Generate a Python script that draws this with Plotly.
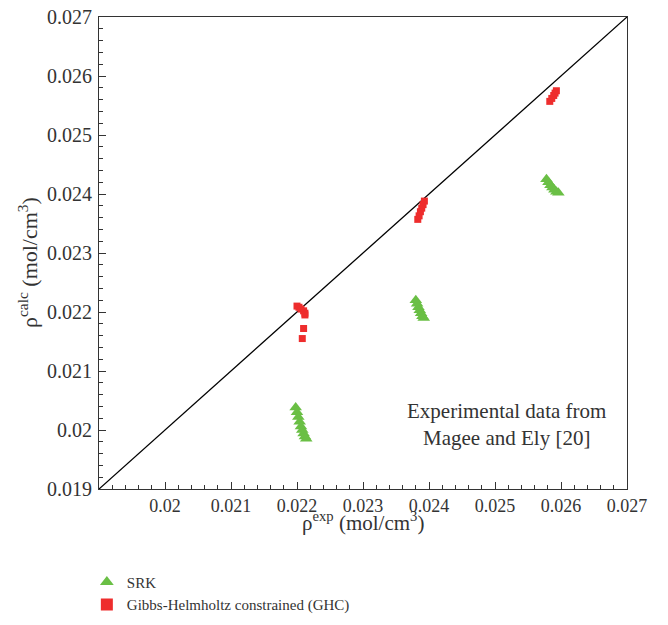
import plotly.graph_objects as go

# SRK (green triangles)
srk_x = [0.02198, 0.02200, 0.02202, 0.02204, 0.02206, 0.02208, 0.02210, 0.02212, 0.02214,
         0.02380, 0.02382, 0.02384, 0.02386, 0.02388, 0.02390, 0.02392,
         0.02578, 0.02581, 0.02584, 0.02587, 0.02590, 0.02593, 0.02596]
srk_y = [0.02038, 0.02030, 0.02022, 0.02014, 0.02006, 0.02000, 0.01994, 0.01989, 0.01985,
         0.02220, 0.02214, 0.02208, 0.02203, 0.02198, 0.02193, 0.02190,
         0.02425, 0.02420, 0.02415, 0.02411, 0.02407, 0.02404, 0.02402]

# GHC (red squares)
ghc_x = [0.02200, 0.02203, 0.02206, 0.02210, 0.02212, 0.02212, 0.02210, 0.02208,
         0.02383, 0.02385, 0.02387, 0.02389, 0.02391, 0.02393,
         0.02583, 0.02586, 0.02589, 0.02591, 0.02593]
ghc_y = [0.02210, 0.02208, 0.02205, 0.02202, 0.02198, 0.02195, 0.02172, 0.02155,
         0.02357, 0.02363, 0.02370, 0.02376, 0.02382, 0.02388,
         0.02557, 0.02562, 0.02567, 0.02571, 0.02575]

diag = [0.019, 0.027]
x_ticks = [0.020, 0.021, 0.022, 0.023, 0.024, 0.025, 0.026, 0.027]
x_labels = ["0.02", "0.021", "0.022", "0.023", "0.024", "0.025", "0.026", "0.027"]
y_ticks = [0.019, 0.020, 0.021, 0.022, 0.023, 0.024, 0.025, 0.026, 0.027]
y_labels = ["0.019", "0.02", "0.021", "0.022", "0.023", "0.024", "0.025", "0.026", "0.027"]

FONT = "Liberation Serif"
TXT = "#333333"

fig = go.Figure()
fig.add_trace(go.Scatter(x=diag, y=diag, mode="lines",
                         line=dict(color="black", width=1.3), showlegend=False,
                         hoverinfo="skip"))
fig.add_trace(go.Scatter(x=srk_x, y=srk_y, mode="markers", name="SRK",
                         marker=dict(symbol="triangle-up", size=11, color="#6abf45",
                                     line=dict(width=0))))
fig.add_trace(go.Scatter(x=ghc_x, y=ghc_y, mode="markers",
                         name="Gibbs-Helmholtz constrained (GHC)",
                         marker=dict(symbol="square", size=7, color="#ee2d2d",
                                     line=dict(width=0))))

axis_common = dict(
    showgrid=False, zeroline=False, showline=True, linecolor=TXT, linewidth=1.2,
    mirror=True, ticks="inside", ticklen=7, tickwidth=1, tickcolor=TXT,
    minor=dict(ticks="inside", ticklen=4, tickwidth=1, tickcolor=TXT,
               dtick=0.0002, tick0=0.019, showgrid=False),
    automargin=False, ticklabeloverflow="allow",
)

fig.update_xaxes(range=[0.019, 0.027], tickvals=x_ticks, ticktext=x_labels,
                 tickfont=dict(family=FONT, size=18, color=TXT),
                 **axis_common)
fig.update_yaxes(range=[0.019, 0.027], tickvals=y_ticks, ticktext=y_labels,
                 tickfont=dict(family=FONT, size=20, color=TXT), ticklabelstandoff=2,
                 **axis_common)

fig.add_annotation(x=0.5, y=-0.069, xref="paper", yref="paper",
                   xanchor="center", yanchor="middle",
                   text="ρ<sup>exp</sup> (mol/cm<sup>3</sup>)", showarrow=False,
                   font=dict(family=FONT, size=21, color=TXT))
fig.add_annotation(x=-0.1345, y=0.481, xref="paper", yref="paper",
                   xanchor="center", yanchor="middle", textangle=-90,
                   text="ρ<sup>calc</sup> (mol/cm<sup>3</sup>)", showarrow=False,
                   font=dict(family=FONT, size=22, color=TXT))

fig.add_annotation(x=0.771, y=0.1375, xref="paper", yref="paper",
                   xanchor="center", yanchor="middle",
                   text="Experimental data from<br>Magee and Ely [20]", showarrow=False,
                   font=dict(family=FONT, size=21, color=TXT), align="center")

fig.update_layout(
    width=668, height=625,
    margin=dict(l=91, r=49, t=9, b=144),
    paper_bgcolor="white", plot_bgcolor="white",
    legend=dict(x=-0.023, y=-0.1625, xanchor="left", yanchor="top",
                font=dict(family=FONT, size=15, color=TXT),
                bgcolor="rgba(0,0,0,0)", tracegroupgap=0, itemsizing="constant"),
    font=dict(family=FONT, color=TXT),
)

fig.write_html("out.html")
